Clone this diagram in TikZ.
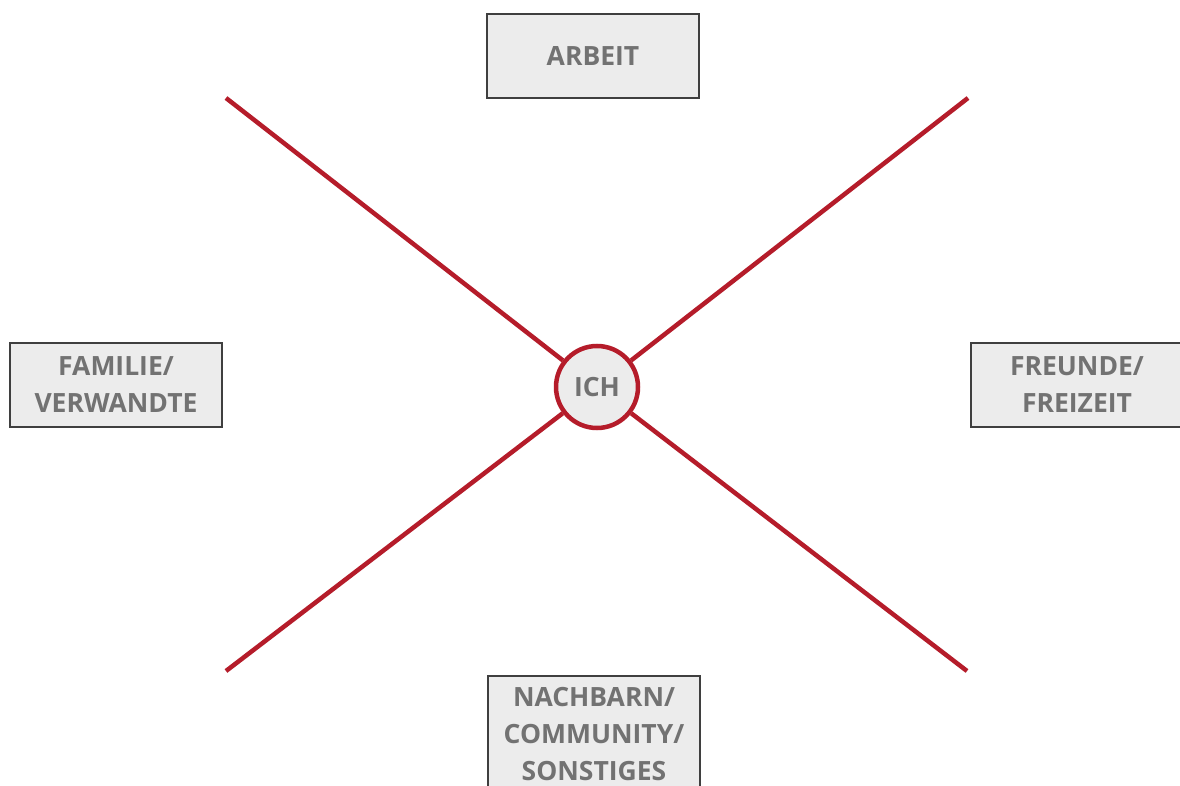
\documentclass[tikz,border=0pt]{standalone}
\usepackage{fontspec}
\setmainfont{Open Sans}
\definecolor{linkred}{HTML}{B51C2A}
\definecolor{boxfill}{HTML}{ECECEC}
\definecolor{boxedge}{HTML}{3F3F3F}
\definecolor{labelgray}{HTML}{727272}
\tikzset{
  field/.style={draw=boxedge, line width=2.4pt, fill=boxfill,
    minimum width=212pt, minimum height=84pt, inner sep=0pt,
    align=center, text=labelgray,
    font=\fontsize{26.5pt}{37pt}\selectfont\bfseries},
  hub/.style={circle, draw=linkred, line width=4.5pt, fill=boxfill,
    minimum size=82pt, inner sep=0pt, text=labelgray,
    font=\fontsize{26.5pt}{37pt}\selectfont\bfseries},
  spoke/.style={draw=linkred, line width=4.5pt}
}
\begin{document}
\begin{tikzpicture}[x=1pt, y=-1pt]
  \useasboundingbox (0,0) rectangle (1180,786);
  \clip (0,0) rectangle (1180,786);
  \fill[white] (0,0) rectangle (1180,786);

  % centre
  \node[hub] (ich) at (597,387) {ICH};

  % ends of the four spokes
  \coordinate (nw) at (226,98);
  \coordinate (ne) at (968,98);
  \coordinate (sw) at (226,671);
  \coordinate (se) at (967,671);
  \draw[spoke] (nw) -- (ich);
  \draw[spoke] (ne) -- (ich);
  \draw[spoke] (sw) -- (ich);
  \draw[spoke] (se) -- (ich);

  % surrounding fields
  \node[field] (arbeit) at (593,56) {ARBEIT};
  \node[field] (familie) at (116,385) {FAMILIE/\\VERWANDTE};
  \node[field] (freunde) at (1077,385) {FREUNDE/\\FREIZEIT};
  \node[field, minimum height=116pt] (nachbarn) at (594,734) {NACHBARN/\\COMMUNITY/\\SONSTIGES};
\end{tikzpicture}
\end{document}
